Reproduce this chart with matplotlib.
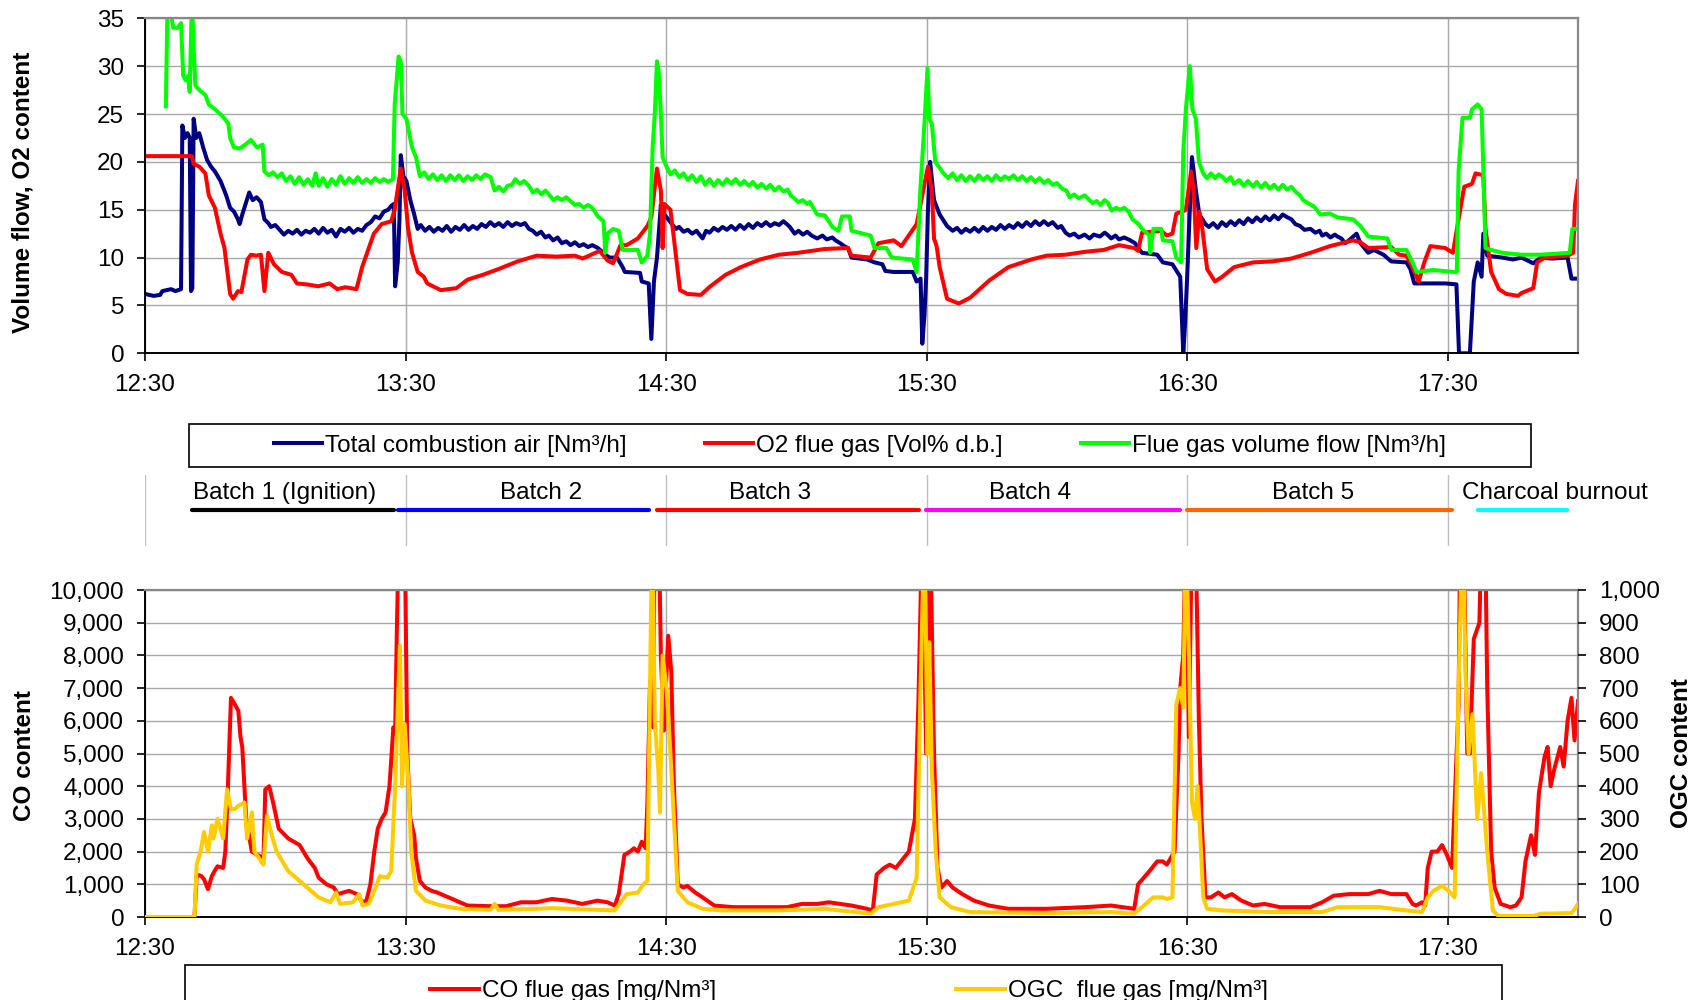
import matplotlib
matplotlib.use("Agg")
import matplotlib.pyplot as plt
from matplotlib.patches import Rectangle
from matplotlib.ticker import FuncFormatter, MultipleLocator

plt.rcParams['font.family'] = ['Liberation Sans', 'DejaVu Sans']

# ---------------- data (time in minutes after 12:30) ----------------
hour_ticks = [0, 60, 120, 180, 240, 300]
hour_labels = ['12:30', '13:30', '14:30', '15:30', '16:30', '17:30']

air = [(0,6.2),(2,6.0),(3.5,6.1),(4,6.5),(6,6.7),(7,6.5),(8.3,6.7),(8.6,23.8),(9.2,22.5),(9.8,23),(10.3,22.5),
       (10.6,6.5),(10.9,6.8),(11.2,24.5),(11.8,22.5),(12.5,23),(13.4,21.5),(14.3,20.2),(15.2,19.5),(16.1,19),
       (17.4,18),(18.7,16.5),(19.6,15.2),(20.5,14.8),(21.4,14.0),(21.8,13.5),(22.4,14.5),(23.1,15.5),(24,16.8),
       (24.8,16),(25.7,16.3),(26.7,15.8),(27.5,14),
       (28.4,13.6),(29,13.2),(30,13.4),(31,12.9),(32,12.4),(33,12.8),(34,12.5),(35,12.9),(36,12.4),(37,12.8),
       (38,12.6),(39,13.0),(40,12.5),(41,13.1),(42,12.6),(43,12.9),(44,12.2),(45,13.0),(46,12.7),(47,13.1),
       (48,12.6),(49,13.0),(50,12.8),(51,13.4),(52,13.7),(53,14.3),(54,14.1),(55,14.8),(56,15.0),(56.7,15.4),
       (57.3,15.6),
       (57.6,7),(58.2,9.5),(58.6,14),(58.9,20.7),(59.5,18.5),(60.2,18),(61.1,16),(62,14.5),
       (62.8,13),(63.5,13.4),(64.5,12.8),(65.5,13.2),(66.5,12.7),(67.5,13.1),(68.5,12.8),(69.5,13.3),(70.5,12.7),
       (71.5,13.2),(72.5,12.9),(73.5,13.4),(74.5,12.9),(75.5,13.3),(76.5,13.0),(77.5,13.5),(78.5,13.2),(79.5,13.7),
       (80.5,13.3),(81.5,13.6),(82.5,13.2),(83.5,13.7),(84.5,13.3),(85.5,13.6),(86.5,13.4),(87.5,13.6),(88.4,13.0),
       (89.3,12.8),(90.2,12.4),(91.2,12.7),(92.2,12.1),(93,12.3),(94,11.8),(95,12.1),(96,11.5),(97,11.7),(98,11.3),
       (99,11.6),(100,11.2),(101,11.4),(102,11.1),(103,11.3),(104.3,11),
       (106,10.3),(107,10),(108.7,10),(110,9),(110.5,8.5),(114,8.4),(114.4,7.5),(116,7.3),(116.6,1.5),(117.2,7.5),
       (117.9,10),(118.8,15.5),(119.6,14.5),
       (120.5,14),(121.5,13.4),(122.3,13),(123,13.2),(124,12.7),(125,12.9),(126,12.5),(127,12.8),(128.4,12),
       (129.2,12.8),(130,12.6),(131,13.1),(132,12.8),(133,13.2),(134,12.9),(135,13.3),(136,12.9),(137,13.4),
       (138,13.0),(139,13.5),(140,13.1),(141,13.6),(142,13.3),(143,13.7),(144,13.3),(145,13.6),(146,13.4),
       (147,13.8),(147.8,13.5),(148.5,13.2),(149.6,12.5),(150.5,12.8),(151.5,12.4),(152.5,12.7),(153.5,12.3),
       (154.8,12),(156,12.3),(157,11.9),(158.3,12.1),(159,11.8),(160.1,11.5),(161,11.2),(161.9,11),(162.7,10),
       (166.3,9.8),(168,9.5),(169.8,9.3),(170.5,8.6),(172.4,8.5),(176.8,8.5),(177.7,7.5),(178.6,7.8),(179,1),
       (179.5,4),(179.9,8),(180.3,15),(180.8,20),(181.7,16),(183,14.5),
       (184.7,13.3),(186,12.8),(187,13.1),(188,12.6),(189,13.0),(190,12.7),(191,13.1),(192,12.7),(193,13.2),
       (194,12.8),(195,13.2),(196,12.9),(197,13.4),(198,13.0),(199,13.4),(200,13.1),(201,13.6),(202,13.2),
       (203,13.7),(204,13.3),(205,13.8),(206,13.4),(207,13.8),(208,13.4),(209,13.7),(210.2,13.1),(211,13.3),
       (212,12.6),(212.9,12.3),(214,12.5),(215,12.1),(216.4,12.4),(217.5,12.0),(218.5,12.4),(219.9,12.2),
       (221,12.6),(221.6,12.4),(222.5,12.0),(223.5,12.3),(224.3,11.9),(225.5,12.1),(226.9,11.8),(228,11.5),
       (228.7,11),
       (229.6,10.5),(233.1,10.3),(234.4,9.5),(236.6,9.3),(238.4,8),(239.1,0),(239.5,3),(240,8),(240.6,15),
       (241.1,20.5),(242,17),(242.8,14.5),
       (244.2,13.5),(245,13.2),(246,13.6),(247,13.1),(248,13.7),(249,13.3),(250,13.8),(251,13.4),(252,13.9),
       (253,13.5),(254,14.1),(255,13.7),(256,14.2),(257,13.8),(258,14.3),(259,13.9),(260,14.4),(261,14.0),
       (262,14.5),(263.1,14.2),(264,14.0),(264.9,13.5),(266,13.3),(267,12.9),(268.4,13),(269.5,12.6),(270.5,12.8),
       (271.1,12.3),(272,12.5),(273,12.1),(274,12.4),(274.6,12.2),(275.5,12.0),(276.4,11.5),(277.5,11.9),
       (279,12.5),(279.9,11.5),
       (281.7,10.5),(283,10.8),(285.2,10.3),(287,9.6),(290.5,9.5),(291.4,8.8),(292.3,7.3),(299.4,7.3),(302,7.2),
       (302.6,0),(305.1,0),(306,7.5),(306.9,9.5),(307.8,8),(308.2,12.5),(309.1,10.2),(312.6,10),(315,9.8),
       (317,10.0),(319.7,9.4),(321.4,10),(324,9.9),(327.6,10),(328.5,7.8),(330,7.8)]

o2 = [(0,20.6),(10.8,20.6),(11.2,19.8),(12.5,19.5),(13.9,18.8),(14.7,16.5),(16.1,15.2),(17.4,12.5),(18.3,11),
      (19.6,6.2),(20.3,5.7),(21.4,6.5),(22.2,6.4),(23.6,9.8),(24.4,10.3),(25.6,10.2),(26.7,10.3),(27.5,6.5),
      (28.4,10.5),(29.7,9.3),(31.5,8.5),(33.7,8.2),(35,7.3),(37.2,7.2),(39.9,7.0),(42.5,7.3),(44.3,6.7),(46.1,6.9),
      (48.7,6.7),(50,9),(51.4,10.8),(52.7,12.5),(54.5,13.5),(56.7,13.8),(57.5,15),(58.9,19.3),(59.8,17),(60.6,13),
      (61.5,10.5),(62.8,8.5),(64.2,8),(65,7.3),(68.1,6.6),(71.7,6.8),(74.3,7.7),(77.8,8.2),(81.4,8.8),(85.8,9.6),
      (90.2,10.2),(94.6,10.1),(99,10.2),(100.8,9.9),(104.7,10.7),(106.5,9.7),(107.8,9.4),(109.5,11.3),(110.9,11.3),
      (113.5,12),(115.7,13.3),(116.6,14.2),(117.9,19.3),(118.8,17),(119.2,11),(119.6,15.6),(121,15),(121.8,12),
      (123.2,6.6),(124.9,6.2),(128,6.1),(130.2,7),(133.7,8.2),(137.2,9.0),(141.6,9.8),(146,10.3),(150.4,10.5),
      (156.6,10.9),(161.9,11),(162.7,10.2),(167.1,10),(168.9,11.5),(172.4,11.8),(174.2,11.2),(177.7,13.5),
      (179,16.5),(180.3,19.5),(181.2,17),(181.7,12),(182.3,11.2),(183,9),(184.7,5.7),(187.4,5.2),(190,5.8),
      (194.4,7.6),(198.8,9),(204.1,9.8),(207.6,10.2),(212,10.3),(216.4,10.6),(220.8,10.8),(224.3,11.3),
      (227.8,11),(228.7,10.7),(229.6,12.6),(234,12.8),(235.3,12.3),(236.6,12.5),(237.5,14.6),(238.9,14.8),
      (239.7,15),(240.9,19),(241.5,17),(242.1,11),(242.8,14.8),(243.5,13),(244.6,8.8),(246.4,7.5),(248.1,8),
      (250.8,9),(255.2,9.5),(259.6,9.6),(264,9.9),(268.4,10.5),(272.9,11.2),(278.2,11.8),(279.9,11.6),(281.7,11),
      (287,11.1),(288.8,10.3),(290.5,10.2),(291.9,9),(293.3,7.5),(294.6,9.5),(296,11.2),(299.4,11),(301.2,10.5),
      (302.5,14),(303.8,17.4),(305.6,17.7),(306.4,18.8),(308.2,18.6),(308.7,13),(310,8.5),(311.8,6.7),(313.5,6.2),
      (316.2,6.0),(317,6.3),(319.7,6.8),(320.6,9.5),(322.4,10),(327.6,10.2),(328.9,10.5),(329.3,15.5),(330,18)]

flow = [(4.8,25.8),(5.2,37),(5.8,36),(6.5,34),(7.5,34),(8.3,34.5),(8.8,29),(9.4,28.5),(9.9,29),(10.3,27.3),
        (10.8,37),(11.2,32),(11.6,28),(12.5,27.5),(13.9,27),(14.7,26),(16.1,25.5),(17.8,24.8),(19.2,24),(19.6,22.5),
        (20.5,21.5),(21.8,21.4),(23.1,21.8),(24.4,22.3),(25.8,21.5),(27.1,21.8),
        (27.5,19),(28.5,18.6),(29.5,18.9),(30.5,18.4),(31.5,18.8),(32.5,18.0),(33.5,18.5),(34.5,17.7),(35.5,18.4),
        (36.5,17.6),(37.5,18.2),(38.5,17.5),(39.3,18.8),(40,17.5),(41,18.3),(42,17.4),(43,18.2),(44,17.6),(45,18.5),
        (46,17.7),(47,18.3),(48,17.8),(49,18.4),(50,17.8),(51,18.2),(52,17.8),(53,18.3),(54,17.9),(55,18.2),
        (56,17.9),(57.1,18.2),
        (57.5,26),(58.4,31),(58.9,30.5),(59.3,25),(60.2,24.5),(61.5,21.5),(62.4,20.5),
        (63.3,18.5),(64.3,18.9),(65.3,18.2),(66.3,18.7),(67.3,18.1),(68.3,18.6),(69.3,18.0),(70.3,18.6),(71.3,18.1),
        (72.3,18.6),(73.3,18.0),(74.3,18.5),(75.3,18.1),(76.3,18.6),(77.3,18.2),(78.3,18.7),(79.6,18.4),(80.5,17.0),
        (81.5,17.4),(82.5,16.9),(83.5,17.5),(84.5,17.6),(85.3,18.2),(86.3,17.7),(87.3,18.0),(88.4,17.5),(89.3,16.8),
        (90.3,17.1),(91.3,16.6),(92.2,17.0),(93,16.6),(94.1,16.0),(95,16.3),(96,16.0),(97,16.3),(98,15.9),(99,15.5),
        (100,15.6),(101,15.2),(102,15.5),(103,15.2),(104.3,14.3),
        (105.6,13.8),(106,10.5),(106.5,12.5),(107.8,13),(109.1,12.8),(110,10.8),(113.5,10.8),(114.4,9.5),
        (115.7,10.2),(116.3,12.5),(116.9,21.5),(117.4,25),(117.9,30.5),(118.3,29.5),(118.8,25),(119.2,20.5),
        (120.1,19.5),(121,18.7),(122,19.1),(123,18.4),(124,18.8),(125,18.1),(126,18.6),(127,17.9),(128,18.5),
        (129,17.6),(130,18.2),(131,17.5),(132,18.1),(133,17.6),(134,18.2),(135,17.7),(136,18.2),(137,17.6),
        (138,18.0),(139,17.5),(140,17.9),(141,17.3),(142,17.7),(143,17.2),(144,17.6),(145,17.0),(146,17.4),
        (147,16.9),(148,17.1),(148.7,16.5),(149.5,16.2),(150.4,15.8),(151.5,16.0),(152.5,15.6),(153.1,15.8),
        (154.8,14.5),(156.6,14.4),(158.3,13.2),(159.7,12.8),(160.5,14.3),(162.3,14.3),(162.7,12.8),(164.5,12.6),
        (167.1,12.3),(168,11),(170.7,11),(172,10),(176.8,9.8),(177.7,8.5),(178.6,17.5),(179.5,24),(180.2,29.8),
        (180.6,24.5),(181.2,24),(182,20),
        (183.9,18.8),(185,18.3),(186,18.8),(187,18.1),(188,18.6),(189,18.0),(190,18.5),(191,18.0),(192,18.6),
        (193,18.1),(194,18.5),(195,18.0),(196,18.6),(197,18.1),(198,18.5),(199,18.2),(200,18.6),(201,18.1),
        (202,18.5),(203,18.0),(204,18.4),(205,17.9),(206,18.3),(207,17.8),(208,18.1),(209,17.6),(210,17.8),
        (211.2,17.2),(212.2,17.0),(212.9,16.3),(214,16.6),(215,16.2),(216.4,16.5),(217.3,16.1),(218.2,15.7),
        (219.2,15.9),(220,15.5),(221,16.0),(221.8,15.7),(222.6,14.9),(223.6,15.2),(224.5,15.0),(225.5,15.2),
        (226.5,14.8),(227.4,14.0),
        (228.8,13.5),(229.6,13),(231.3,12.3),(231.5,10.5),(232.2,13),(234,13),(234.4,11.8),(236.6,11.7),(237.5,10),
        (238.6,9.5),(239.1,21),(239.7,25.5),(240.6,30),(241.2,25.5),(242,24.5),(242.7,20),
        (243.7,18.8),(244.5,18.3),(245.5,18.8),(246.4,18.3),(247.3,18.7),(248.2,18.4),(249,18.0),(250,18.4),
        (250.8,17.7),(252,18.1),(253,17.5),(254,18.0),(255.2,17.4),(256,17.9),(257,17.3),(258,17.8),(259,17.2),
        (260,17.6),(261,17.1),(262,17.6),(263,17.1),(264,17.4),(264.9,16.9),(266,16.5),(266.7,16),
        (269.3,15.3),(270.7,14.5),(272.9,14.6),(274.6,14.2),(278.2,14),(279.9,13.3),(281.7,12.2),(286.1,12),
        (287,10.8),(290.5,10.8),(291.9,9.5),(292.8,8.5),(296.8,8.7),(301.2,8.5),(302.1,8.5),(302.5,19),(303.4,24.6),
        (305.1,24.6),(305.6,25.5),(306.9,26),(307.8,25.5),(308.7,11),(310,10.8),(312.6,10.5),(317,10.3),
        (321.4,10.3),(328.1,10.5),(328.7,13),(330,13)]

co = [(0,0),(11.4,0),(11.9,1300),(13.0,1250),(13.6,1150),(14.5,850),(15.4,1250),(16.0,1400),(16.7,1550),(18,1500),
      (18.5,2000),(19.1,4000),(19.8,6700),(20.7,6500),(21.5,6300),(22,5500),(22.4,5200),(23.3,3000),(24.6,2000),
      (25.9,1900),(27.3,1800),(27.7,3900),(28.6,4000),(29.5,3500),(30.8,2700),(33,2400),(35.6,2200),(37.4,1800),
      (39.1,1500),(40,1200),(41.8,1000),(43.5,900),(44.4,700),(45.7,750),(47,800),(48.8,700),(50.1,450),(51,500),
      (51.9,1000),(52.8,2000),(53.6,2700),(54.5,3000),(55.4,3200),(56.3,4000),(57.2,5800),(57.6,5600),(58,8800),
      (58.5,12000),(59.8,12000),(60.4,5000),(61.1,3000),(62,2500),(62.4,1800),(63.3,1100),(64.6,900),(66,800),
      (67.3,750),(69,650),(70.8,550),(72.5,450),(74.3,350),(77,340),(79.6,330),(83.1,330),(86.6,450),(90.1,450),
      (93.7,550),(97.2,500),(100.7,400),(104.2,500),(106.5,450),(108.2,350),(109.1,700),(110.4,1900),(111.7,2000),
      (112.6,2100),(113.5,2000),(114.4,2300),(115.3,2100),(115.7,3500),(116.3,7200),(117,5800),(117.4,12000),
      (118.3,12000),(118.8,8000),(119.5,5700),(120.5,8600),(121.2,7500),(121.8,4000),(122.7,1000),(124,900),
      (124.9,950),(126.7,750),(128.4,600),(131.1,350),(135.5,300),(141.6,300),(147.8,300),(151.3,400),
      (154.8,400),(157.5,450),(160.1,400),(162.7,350),(166.3,250),(167.6,200),(168.5,1300),(170.2,1500),
      (171.5,1600),(172.9,1500),(174.1,1700),(175.9,2000),(177.3,3000),(178.1,6500),(179,12000),(179.9,5000),
      (180.8,12000),(181.7,5000),(182.5,1500),(183.4,900),(184.7,1100),(186,900),(188.2,700),(190.9,500),
      (194.4,350),(198.8,250),(207.6,250),(216.4,300),(222.5,350),(225.2,300),(227.8,250),(228.7,1000),
      (231.3,1400),(233.1,1700),(234.4,1700),(235.3,1600),(236.2,1800),(237.1,2000),(238,5000),(238.4,7000),
      (239.1,8000),(239.7,12000),(240.4,5500),(241.1,12000),(241.9,12000),(242.7,6000),(243.3,3000),(244.2,600),
      (245.5,600),(247.2,750),(248.6,600),(250.3,700),(252.5,500),(255.2,350),(257.8,400),(261.4,300),(268.4,300),
      (271.1,450),(273.7,650),(277.3,700),(281.7,700),(284.3,800),(287,700),(290.5,700),(291.9,400),(292.7,350),
      (294.1,450),(294.8,350),(295.4,1500),(296.3,2000),(297.6,2000),(298.7,2200),(299.8,1900),(301,1500),
      (301.6,3500),(302.5,6500),(302.9,12000),(303.6,12000),(304.5,5000),(305.1,5000),(306,8500),(307.3,9000),
      (307.8,12000),(308.6,12000),(309.1,7000),(310,2000),(310.8,900),(312.2,400),(314.4,300),(315.7,350),
      (317,600),(317.9,1700),(319.2,2500),(320.1,1900),(321,3800),(322.3,4900),(323,5200),(323.7,4000),
      (324.5,4500),(325.9,5200),(326.7,4600),(327.6,6000),(328.5,6700),(329.2,5400),(330,6600)]

ogc = [(0,0),(11.4,0),(11.9,160),(12.8,200),(13.6,260),(14.5,200),(15.4,280),(15.8,240),(16.7,300),(18,240),
       (18.9,390),(19.8,330),(20.7,330),(21.5,340),(22.9,350),(23.5,240),(24.6,320),(25.2,200),(27.3,160),
       (28.1,310),(29,260),(30.3,200),(33,140),(36.5,100),(40,60),(42.7,45),(44,75),(44.9,40),(47.9,45),(49.3,70),
       (50.1,35),(51.5,40),(52.8,80),(54.1,125),(55.8,120),(56.7,140),(57.6,400),(58.7,830),(59.2,400),(59.8,590),
       (60.7,400),(61.3,200),(62.4,80),(64.6,50),(68.2,35),(72.6,25),(79.6,22),(80.5,40),(81.4,22),(90.1,25),
       (93.7,27),(104.2,22),(108.2,20),(110.9,70),(113.5,75),(114.8,100),(115.7,110),(116.3,700),(116.8,1200),
       (117.4,600),(118.2,450),(118.6,320),(119.2,800),(120.1,700),(121,500),(121.8,300),(122.7,80),(124.9,45),
       (128.4,25),(132.8,20),(146,20),(156.6,25),(167.1,10),(168.9,30),(172.4,40),(175.9,50),(177.7,120),
       (178.6,700),(179.5,1200),(180.2,500),(180.6,840),(181.2,450),(182.1,200),(183,60),(185.6,30),(190,15),
       (207.6,12),(222.5,15),(227.8,10),(229.6,30),(232.2,60),(234.4,60),(235.3,55),(236.6,60),(237.5,650),
       (238.4,700),(239.1,640),(239.7,1200),(240.4,800),(241.1,350),(241.8,300),(242.4,400),(243,250),(243.7,60),
       (244.6,25),(248.1,20),(259.6,15),(271.1,15),(274.6,30),(284.3,30),(290.5,20),(294.1,15),(295.4,60),
       (296.7,80),(298.7,95),(300.2,80),(301.6,60),(302.5,700),(303.4,1200),(304.2,700),(304.8,500),(305.7,620),
       (306.8,300),(307.7,440),(309.1,200),(310.4,20),(311.7,3),(319.7,3),(321.4,10),(328.5,12),(329.3,25),
       (330,40)]

batch_names = ['Batch 1 (Ignition)', 'Batch 2', 'Batch 3', 'Batch 4', 'Batch 5', 'Charcoal burnout']
batch_start = [10.8, 58.2, 117.8, 179.9, 240.0, 307.0]
batch_end = [57.3, 116.1, 178.3, 238.4, 301.0, 327.5]
batch_label_t = [32.2, 91.2, 144.0, 203.9, 268.9, 324.7]
batch_colors = ['#000000', '#0000FF', '#FF0000', '#FF00FF', '#FF6600', '#00FFFF']

# ---------------- figure ----------------
W, H = 1702, 1000
fig = plt.figure(figsize=(W / 100, H / 100), dpi=100)

def fx(px):
    return px / W

def fy(py):
    return 1 - py / H

L, R = 145, 1578
ax_top = fig.add_axes([fx(L), fy(353.3), fx(R) - fx(L), (353.3 - 18.3) / H])
ax_bot = fig.add_axes([fx(L), fy(917), fx(R) - fx(L), (917 - 590) / H])
ax_strip = fig.add_axes([fx(L), fy(546), fx(R) - fx(L), (546 - 475) / H])
ax_ogc = ax_bot.twinx()

FS = 17.5
LW = 2.9
grid_c = '#a8a8a8'

def style_axes(ax):
    ax.set_xlim(0, 330)
    ax.set_xticks(hour_ticks)
    ax.set_xticklabels(hour_labels)
    ax.grid(True, axis='both', color=grid_c, lw=1.0)
    ax.set_axisbelow(True)
    ax.tick_params(axis='both', direction='out', length=6, width=1.2, labelsize=FS, colors='#000000')
    ax.tick_params(axis='x', pad=9)
    ax.tick_params(axis='y', pad=9)
    for s in ['top', 'right']:
        ax.spines[s].set_color('#888888')
        ax.spines[s].set_linewidth(1.6)
    for s in ['left', 'bottom']:
        ax.spines[s].set_color('#000000')
        ax.spines[s].set_linewidth(1.4)

# top chart
style_axes(ax_top)
ax_top.set_ylim(0, 35)
ax_top.yaxis.set_major_locator(MultipleLocator(5))
t, v = zip(*air)
l_air, = ax_top.plot(t, v, color='#000080', lw=LW, label='Total combustion air [Nm³/h]')
t, v = zip(*o2)
l_o2, = ax_top.plot(t, v, color='#FF0000', lw=LW, label='O2 flue gas [Vol% d.b.]')
t, v = zip(*flow)
l_flow, = ax_top.plot(t, v, color='#00FF00', lw=LW, label='Flue gas volume flow [Nm³/h]')

# bottom chart
style_axes(ax_bot)
ax_bot.set_ylim(0, 10000)
ax_bot.yaxis.set_major_locator(MultipleLocator(1000))
ax_bot.yaxis.set_major_formatter(FuncFormatter(lambda x, p: f"{x:,.0f}"))
t, v = zip(*co)
l_co, = ax_bot.plot(t, v, color='#FF0000', lw=LW, label='CO flue gas [mg/Nm³]')

ax_ogc.set_ylim(0, 1000)
ax_ogc.yaxis.set_major_locator(MultipleLocator(100))
ax_ogc.yaxis.set_major_formatter(FuncFormatter(lambda x, p: f"{x:,.0f}"))
ax_ogc.tick_params(axis='y', direction='out', length=6, width=1.2, labelsize=FS, pad=9)
for s in ax_ogc.spines.values():
    s.set_visible(False)
t, v = zip(*ogc)
l_ogc, = ax_ogc.plot(t, v, color='#FFCC00', lw=LW, label='OGC  flue gas [mg/Nm³]')

# batch strip
ax_strip.set_xlim(0, 330)
ax_strip.set_ylim(0, 1)
ax_strip.axis('off')
for h in hour_ticks:
    ax_strip.axvline(h, color='#c0c0c0', lw=1.0)
for name, s, e, lt, c in zip(batch_names, batch_start, batch_end, batch_label_t, batch_colors):
    ax_strip.plot([s, e], [0.507, 0.507], color=c, lw=3.0, solid_capstyle='round', clip_on=False)
    ax_strip.text(lt, 0.75, name, ha='center', va='center', fontsize=FS, clip_on=False)

# axis titles
fig.text(fx(23.5), fy(192.5), 'Volume flow, O2 content', rotation=90, ha='center', va='center',
         fontsize=FS, fontweight='bold')
fig.text(fx(24.5), fy(756), 'CO content', rotation=90, ha='center', va='center',
         fontsize=FS, fontweight='bold')
fig.text(fx(1681), fy(753), 'OGC content', rotation=90, ha='center', va='center',
         fontsize=FS, fontweight='bold')

# legends
fig.add_artist(Rectangle((fx(189), fy(467)), fx(1531) - fx(189), 43 / H, transform=fig.transFigure,
                         fill=False, edgecolor='#000000', lw=1.2))
fig.legend([l_air, l_o2, l_flow], [l_air.get_label(), l_o2.get_label(), l_flow.get_label()],
           loc='center', bbox_to_anchor=(fx(860), fy(445.5)), ncol=3, frameon=False, fontsize=FS,
           handlelength=2.0, handletextpad=0.12, columnspacing=3.2, borderpad=0, borderaxespad=0)

fig.add_artist(Rectangle((fx(185), fy(1010)), fx(1502) - fx(185), 45 / H, transform=fig.transFigure,
                         fill=False, edgecolor='#000000', lw=1.2))
fig.legend([l_co, l_ogc], [l_co.get_label(), l_ogc.get_label()],
           loc='center', bbox_to_anchor=(fx(849), fy(991)), ncol=2, frameon=False, fontsize=FS,
           handlelength=2.0, handletextpad=0.12, columnspacing=9.9, borderpad=0, borderaxespad=0)

fig.savefig('out.png', dpi=100)
